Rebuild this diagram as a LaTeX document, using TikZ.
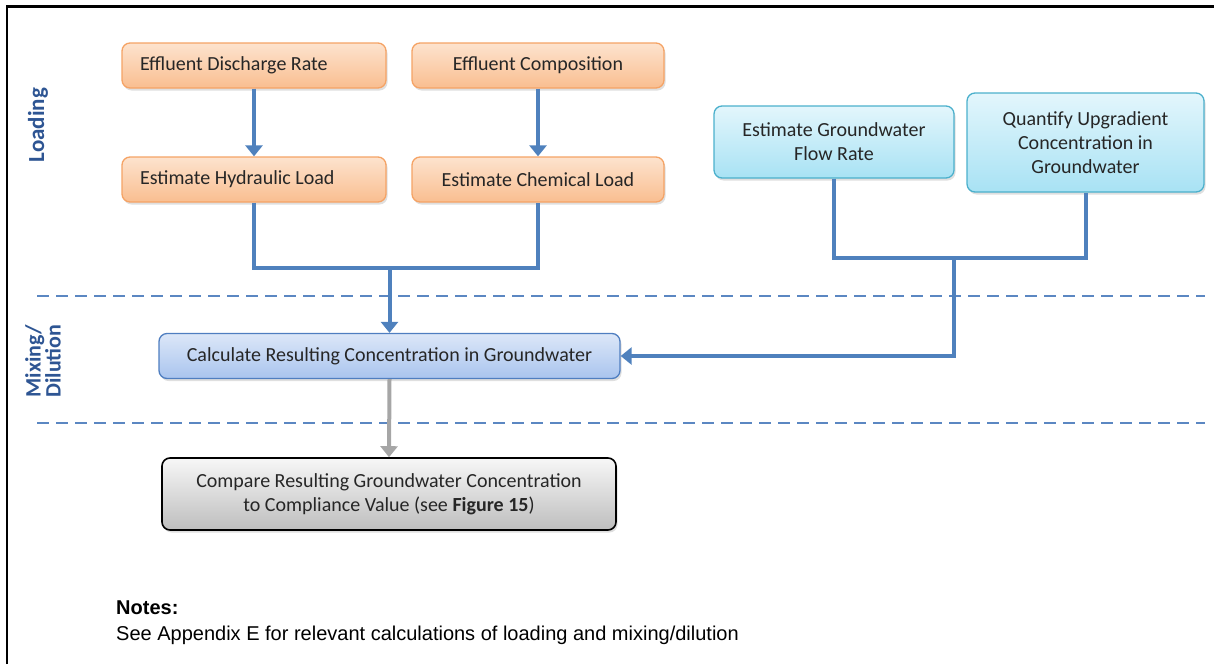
\documentclass[tikz,border=0pt]{standalone}
\usepackage{fontspec}
\setmainfont{Carlito}
\newfontfamily\arialf{Liberation Sans}
\usetikzlibrary{arrows.meta,shadows}
\definecolor{conn}{HTML}{4F81BD}
\definecolor{dashc}{HTML}{5B87C2}
\definecolor{lblc}{HTML}{2E5593}
\definecolor{orb}{HTML}{F5A365}
\definecolor{ortop}{HTML}{FDE3CE}
\definecolor{orbot}{HTML}{F9BE90}
\definecolor{cyb}{HTML}{4BB0CC}
\definecolor{cytop}{HTML}{E3F6FC}
\definecolor{cybot}{HTML}{A8E2F4}
\definecolor{blb}{HTML}{4F7EC0}
\definecolor{bltop}{HTML}{DCE7F8}
\definecolor{blbot}{HTML}{A9C4EE}
\definecolor{grtop}{HTML}{F7F7F7}
\definecolor{grbot}{HTML}{BEBEBE}
\definecolor{txt}{HTML}{262626}
\definecolor{grarrow}{HTML}{A6A6A6}
\begin{document}
\begin{tikzpicture}[x=1pt,y=-1pt,
  box/.style={rounded corners=8pt, line width=1.3pt, align=center,
    font=\fontsize{20}{24}\selectfont, text=txt, inner sep=0pt,
    drop shadow={shadow xshift=1.5pt, shadow yshift=-2.5pt, opacity=0.25}},
  orangebox/.style={box, draw=orb, top color=ortop, bottom color=orbot},
  cyanbox/.style={box, draw=cyb, top color=cytop, bottom color=cybot},
  bluebox/.style={box, draw=blb, top color=bltop, bottom color=blbot},
  graybox/.style={box, draw=black, line width=1.6pt, top color=grtop, bottom color=grbot},
  connline/.style={draw=conn, line width=4pt, line join=miter},
  connarrow/.style={connline, -{Triangle[width=17pt,length=11pt]}},
  grayarrow/.style={draw=grarrow, line width=4pt, -{Triangle[width=17pt,length=11pt]}},
  divider/.style={draw=dashc, line width=2.2pt, dash pattern=on 12pt off 7pt},
  sidelabel/.style={rotate=90, text=lblc, align=center,
    font=\bfseries\fontsize{22}{17}\selectfont, inner sep=0pt},
]
\useasboundingbox (0,0) rectangle (1214,664);
\draw[line width=2.6pt] (7,664) -- (7,6.5) -- (1214,6.5);

% dividers
\draw[divider] (37,296) -- (1205,296);
\draw[divider] (37,423) -- (1205,423);

% side labels
\node[sidelabel, font=\bfseries\fontsize{23}{17}\selectfont] (lload) at (38,125) {Loading};
\node[sidelabel] (lmix) at (43,361) {Mixing/\\Dilution};

% nodes
\node[orangebox, minimum width=264pt, minimum height=45pt] (dis) at (254,65.5) {\makebox[228pt][l]{Effluent Discharge Rate}};
\node[orangebox, minimum width=252pt, minimum height=45pt] (comp) at (538,65.5) {Effluent Composition};
\node[orangebox, minimum width=264pt, minimum height=45pt] (hyd) at (254,179.5) {\makebox[228pt][l]{Estimate Hydraulic Load}};
\node[orangebox, minimum width=252pt, minimum height=45pt] (chem) at (538,179.5) {Estimate Chemical Load};
\node[cyanbox, minimum width=240pt, minimum height=72pt] (flow) at (834,142) {Estimate Groundwater\\Flow Rate};
\node[cyanbox, minimum width=237pt, minimum height=99pt] (quant) at (1085.5,142.5) {Quantify Upgradient\\Concentration in\\Groundwater};
\node[bluebox, minimum width=461pt, minimum height=45pt] (calc) at (389.5,356) {Calculate Resulting Concentration in Groundwater};
\node[graybox, minimum width=454pt, minimum height=72pt] (cmp) at (389,494) {Compare Resulting Groundwater Concentration\\to Compliance Value (see \textbf{Figure 15})};

% junctions
\coordinate (j1) at (389.5,268);
\coordinate (j2) at (954,258);

% connectors
\draw[connarrow] (dis.south) -- (hyd.north);
\draw[connarrow] (comp.south) -- (chem.north);
\draw[connline] (hyd.south) |- (j1) -| (chem.south);
\draw[connarrow] (j1) -- (calc.north);
\draw[connline] (flow.south) |- (j2) -| (quant.south);
\draw[connarrow] (j2) |- (calc.east);
\draw[grayarrow] (calc.south) -- (cmp.north);

% notes
\node[anchor=base west, inner sep=0pt, font=\arialf\bfseries\fontsize{20}{24}\selectfont] (nt) at (116,614) {Notes:};
\node[anchor=base west, inner sep=0pt, font=\arialf\fontsize{20}{24}\selectfont] (nb) at (116,640) {See Appendix E for relevant calculations of loading and mixing/dilution};
\end{tikzpicture}
\end{document}
